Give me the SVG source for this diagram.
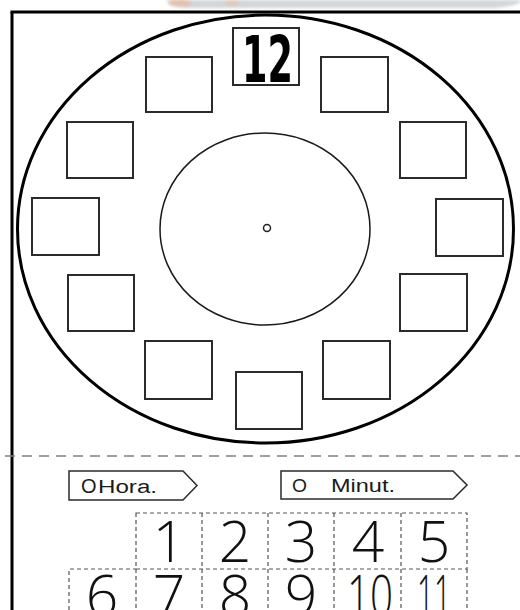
<svg xmlns="http://www.w3.org/2000/svg" width="520" height="610" viewBox="0 0 520 610">
  <style>
    .frame { stroke: #000; stroke-width: 3; fill: none; }
    .face { stroke: #000; stroke-width: 3; fill: none; }
    .inner { stroke: #1a1a1a; stroke-width: 1.5; fill: none; }
    .sq { stroke: #2b2b2b; stroke-width: 2; fill: #fff; }
    .cut { stroke: #808080; stroke-width: 1.5; stroke-dasharray: 10 7; fill: none; }
    .tag { stroke: #2b2b2b; stroke-width: 1.5; fill: #fff; }
    .tagtext { font-family: "Liberation Sans", Arial, sans-serif; font-size: 18px; fill: #1a1a1a; }
    .grid { stroke: #555; stroke-width: 1.2; stroke-dasharray: 4 3; fill: none; }
    .num { font-family: "Open Sans", "DejaVu Sans", sans-serif; font-weight: 300; font-size: 57px; fill: #111; text-anchor: middle; }
    .twelve { font-family: "DejaVu Sans", "Liberation Sans", sans-serif; font-weight: bold; font-size: 64px; fill: #000; }
  </style>
  <defs>
    <filter id="blur" x="-20%" y="-50%" width="140%" height="200%">
      <feGaussianBlur stdDeviation="1.5"/>
    </filter>
  </defs>
  <rect width="520" height="610" fill="#fff"/>

  <!-- faded top decoration -->
  <g id="top-decoration" filter="url(#blur)">
    <path d="M166,0 L520,0 L520,3 Q505,9 480,8 L185,8 Q170,7 166,0 Z" fill="#d3d7da"/>
    <ellipse cx="180" cy="3" rx="12" ry="4" fill="#e8b8a0" opacity="0.7"/>
    <ellipse cx="232" cy="3" rx="8" ry="3" fill="#e8c0a8" opacity="0.6"/>
  </g>

  <!-- frame -->
  <g id="frame">
    <line class="frame" x1="10.5" y1="12" x2="520" y2="12"/>
    <line class="frame" x1="12" y1="12" x2="12" y2="610"/>
  </g>

  <!-- clock face -->
  <g id="clock-face">
    <ellipse class="face" cx="265.5" cy="229" rx="248" ry="214"/>
    <ellipse class="inner" cx="265" cy="229" rx="105" ry="96"/>
    <circle cx="267" cy="228" r="3.5" fill="none" stroke="#222" stroke-width="1.5"/>
  </g>

  <g id="box-12">
    <rect class="sq" x="233" y="28" width="66" height="57" stroke="#000"/>
    <text class="twelve" x="242" y="82" textLength="51" lengthAdjust="spacingAndGlyphs">12</text>
  </g>
  <g id="box-1"><rect class="sq" x="321" y="57" width="67" height="55"/></g>
  <g id="box-2"><rect class="sq" x="400" y="122" width="66" height="56"/></g>
  <g id="box-3"><rect class="sq" x="436" y="199" width="67" height="57"/></g>
  <g id="box-4"><rect class="sq" x="400" y="274" width="67" height="57"/></g>
  <g id="box-5"><rect class="sq" x="323" y="341" width="67" height="58"/></g>
  <g id="box-6"><rect class="sq" x="236" y="372" width="66" height="57"/></g>
  <g id="box-7"><rect class="sq" x="145" y="341" width="67" height="58"/></g>
  <g id="box-8"><rect class="sq" x="68" y="275" width="66" height="56"/></g>
  <g id="box-9"><rect class="sq" x="32" y="198" width="67" height="57"/></g>
  <g id="box-10"><rect class="sq" x="67" y="122" width="66" height="56"/></g>
  <g id="box-11"><rect class="sq" x="146" y="57" width="66" height="55"/></g>

  <!-- cut line -->
  <g id="connectors">
    <line class="cut" x1="5" y1="456" x2="520" y2="456"/>
  </g>

  <g id="label-hora">
    <path class="tag" d="M69,471 H183 L197,485.5 L183,500 H69 Z"/>
    <text class="tagtext" x="81" y="492.5"><tspan font-size="20">O</tspan><tspan x="98" textLength="59" lengthAdjust="spacingAndGlyphs">Hora.</tspan></text>
  </g>
  <g id="label-minut">
    <path class="tag" d="M281,471 H453 L467,485 L453,499 H281 Z"/>
    <text class="tagtext" x="292" y="492"><tspan font-size="18" textLength="15" lengthAdjust="spacingAndGlyphs">O</tspan><tspan x="331" textLength="64" lengthAdjust="spacingAndGlyphs">Minut.</tspan></text>
  </g>

  <g id="number-grid">
    <rect class="grid" x="136" y="513" width="331" height="56"/>
    <line class="grid" x1="202" y1="513" x2="202" y2="610"/>
    <line class="grid" x1="268" y1="513" x2="268" y2="610"/>
    <line class="grid" x1="334" y1="513" x2="334" y2="610"/>
    <line class="grid" x1="401" y1="513" x2="401" y2="610"/>
    <path class="grid" d="M69,610 V569 H136 M136,569 V610 M467,569 V610"/>
  </g>
  <g id="numbers">
    <text class="num" x="169" y="562">1</text>
    <text class="num" x="235" y="562">2</text>
    <text class="num" x="301" y="562">3</text>
    <text class="num" x="368" y="562">4</text>
    <text class="num" x="434" y="562">5</text>
    <text class="num" x="102" y="616">6</text>
    <text class="num" x="169" y="616">7</text>
    <text class="num" x="235" y="616">8</text>
    <text class="num" x="301" y="616">9</text>
    <text class="num" x="370" y="616" textLength="46" lengthAdjust="spacingAndGlyphs">10</text>
    <text class="num" x="434" y="616" textLength="34" lengthAdjust="spacingAndGlyphs">11</text>
  </g>
</svg>
